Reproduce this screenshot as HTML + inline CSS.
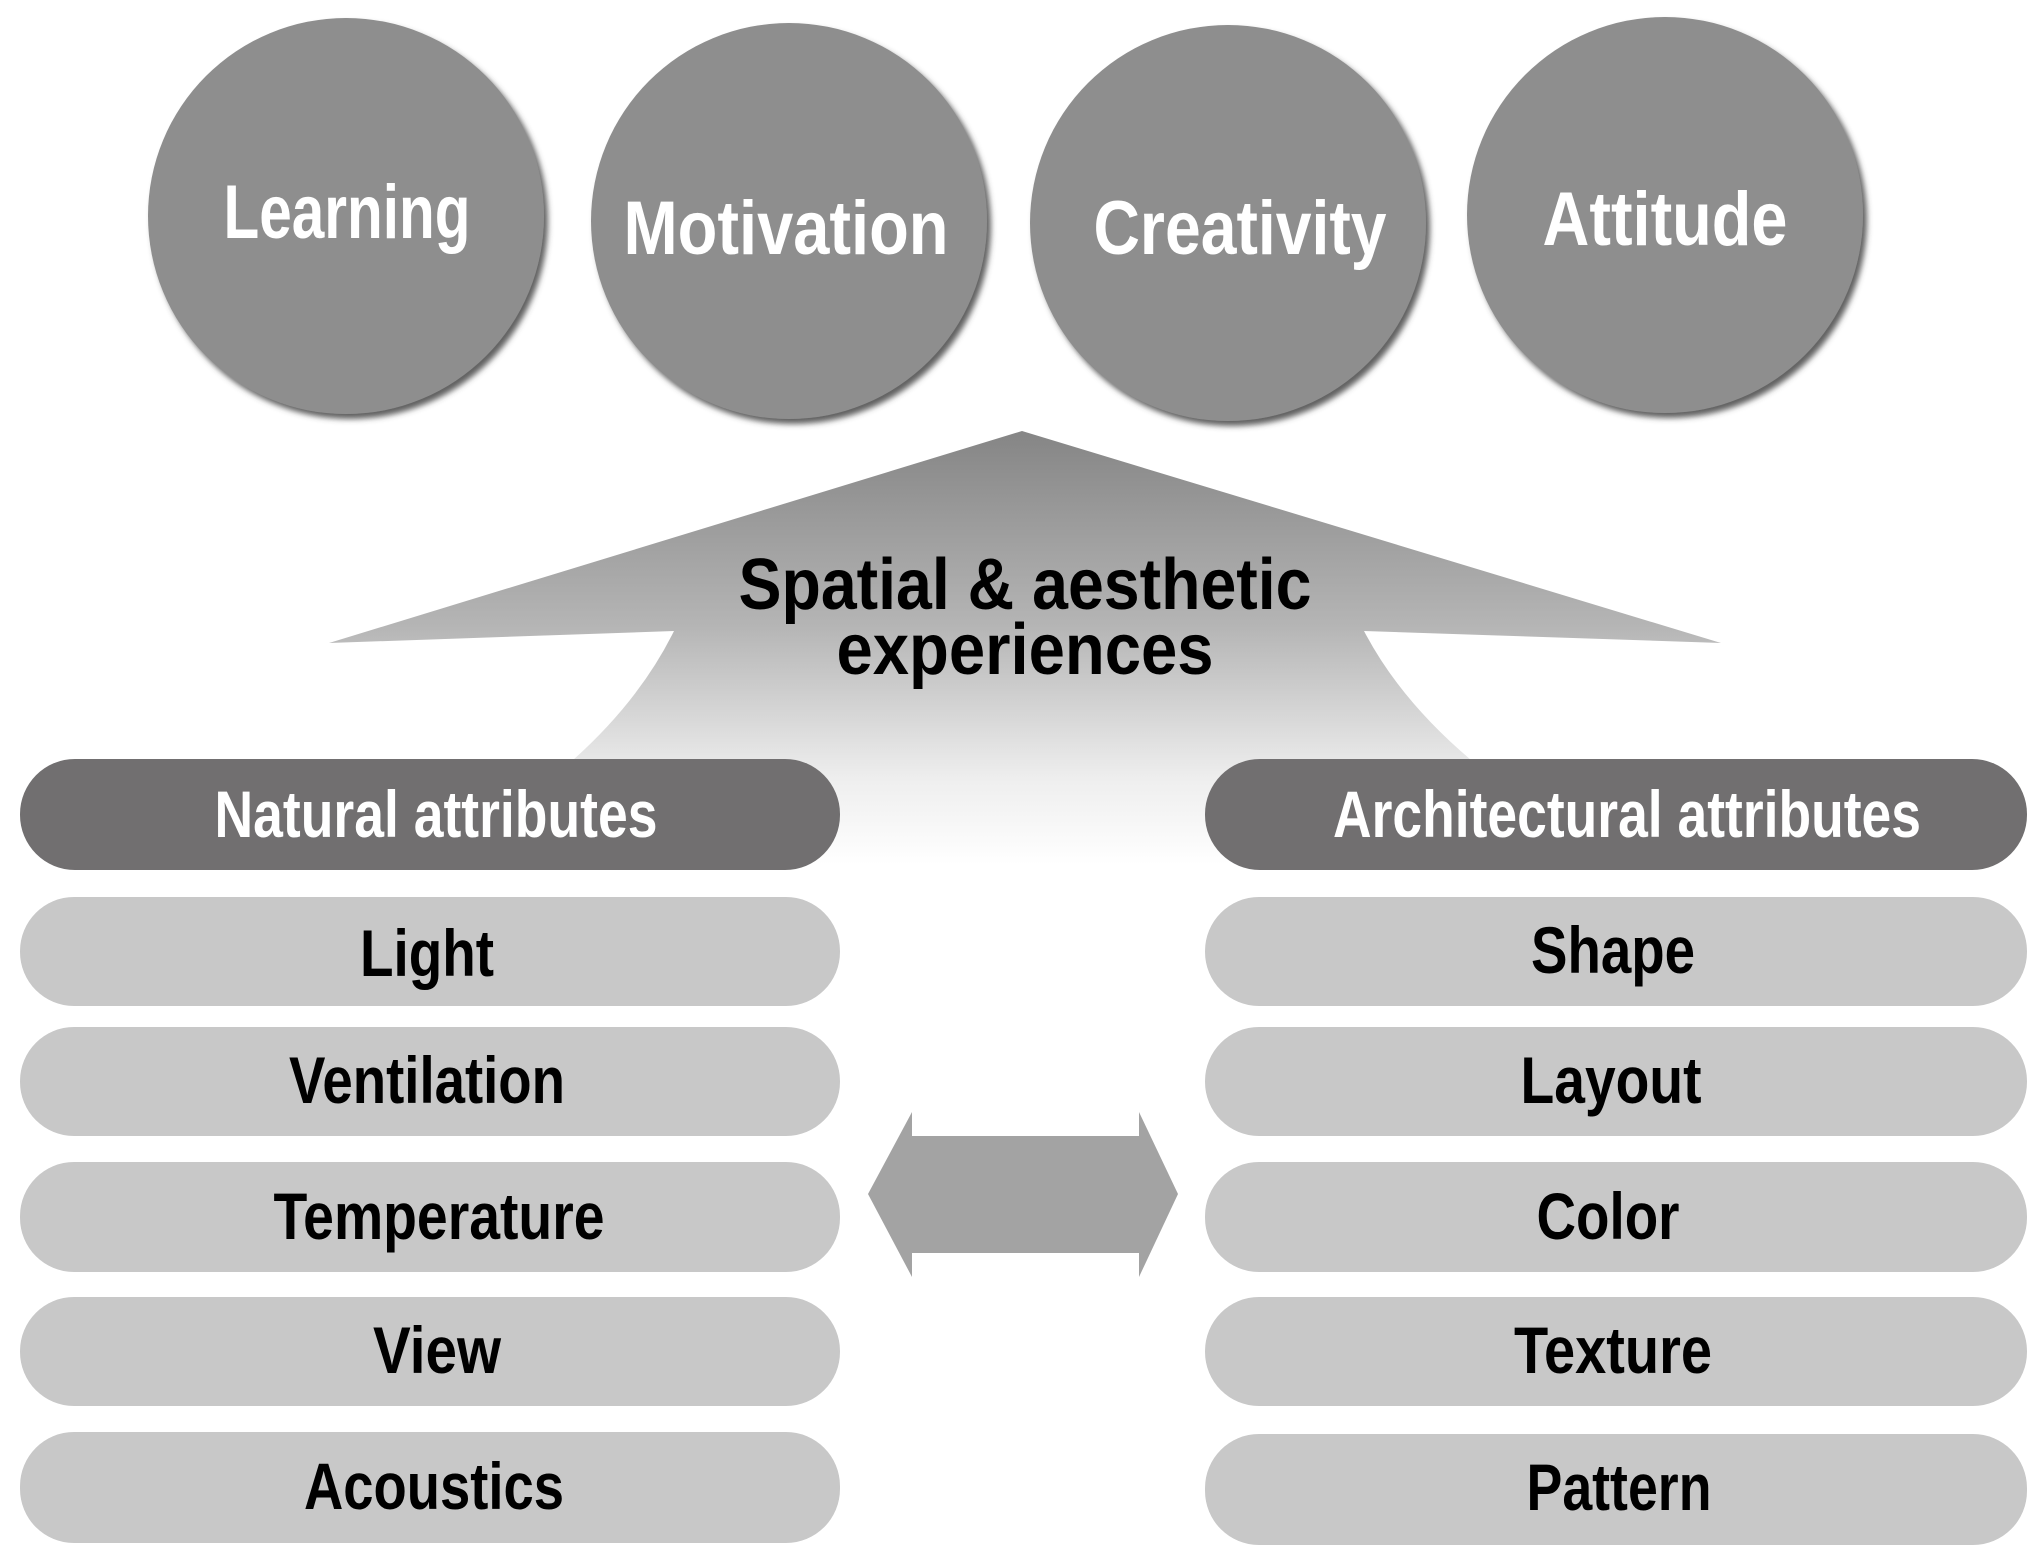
<!DOCTYPE html>
<html><head><meta charset="utf-8"><style>html,body{margin:0;padding:0;background:#fff}svg{display:block}text{font-family:"Liberation Sans",sans-serif;font-weight:bold}</style></head>
<body>
<svg width="2041" height="1563" viewBox="0 0 2041 1563" xmlns="http://www.w3.org/2000/svg">
<defs>
<linearGradient id="g" x1="0" y1="431" x2="0" y2="865" gradientUnits="userSpaceOnUse">
<stop offset="0" stop-color="#858585"/><stop offset="0.45" stop-color="#b5b5b5"/><stop offset="0.8" stop-color="#eeeeee"/><stop offset="1" stop-color="#ffffff"/>
</linearGradient>
<filter id="sh" x="-20%" y="-20%" width="140%" height="140%"><feDropShadow dx="4" dy="5" stdDeviation="3" flood-color="#444" flood-opacity="0.85"/></filter>
</defs>
<g fill="#8e8e8e" filter="url(#sh)">
<circle cx="346" cy="216" r="198"/>
<circle cx="789" cy="221" r="198"/>
<circle cx="1228" cy="223" r="198"/>
<circle cx="1665" cy="215" r="198"/>
</g>
<g fill="#fff" font-size="76" text-anchor="middle">
<text x="347" y="238" textLength="247" lengthAdjust="spacingAndGlyphs">Learning</text>
<text x="786" y="254" textLength="325" lengthAdjust="spacingAndGlyphs">Motivation</text>
<text x="1240" y="254" textLength="293" lengthAdjust="spacingAndGlyphs">Creativity</text>
<text x="1665" y="245" textLength="245" lengthAdjust="spacingAndGlyphs">Attitude</text>
</g>
<path d="M1022 431 L1721 643 L1364 631 Q1400 700 1471 760 L1471 870 L573 870 L573 760 Q640 700 674 631 L329 643 Z" fill="url(#g)"/>
<g fill="#000" font-size="72" text-anchor="middle">
<text x="1025" y="609" textLength="573" lengthAdjust="spacingAndGlyphs">Spatial &amp; aesthetic</text>
<text x="1025" y="674" textLength="377" lengthAdjust="spacingAndGlyphs">experiences</text>
</g>
<g fill="#716f70">
<rect x="20" y="759" width="820" height="111" rx="55"/>
<rect x="1205" y="759" width="822" height="111" rx="55"/>
</g>
<g fill="#fff" font-size="66" text-anchor="middle">
<text x="436" y="837" textLength="443" lengthAdjust="spacingAndGlyphs">Natural attributes</text>
<text x="1627" y="837" textLength="588" lengthAdjust="spacingAndGlyphs">Architectural attributes</text>
</g>
<g fill="#c8c8c8">
<rect x="20" y="897" width="820" height="109" rx="54"/>
<rect x="20" y="1027" width="820" height="109" rx="54"/>
<rect x="20" y="1162" width="820" height="110" rx="54"/>
<rect x="20" y="1297" width="820" height="109" rx="54"/>
<rect x="20" y="1432" width="820" height="111" rx="54"/>
<rect x="1205" y="897" width="822" height="109" rx="54"/>
<rect x="1205" y="1027" width="822" height="109" rx="54"/>
<rect x="1205" y="1162" width="822" height="110" rx="54"/>
<rect x="1205" y="1297" width="822" height="109" rx="54"/>
<rect x="1205" y="1434" width="822" height="111" rx="54"/>
</g>
<g fill="#000" font-size="66" text-anchor="middle">
<text x="427" y="976" textLength="134" lengthAdjust="spacingAndGlyphs">Light</text>
<text x="427" y="1103" textLength="276" lengthAdjust="spacingAndGlyphs">Ventilation</text>
<text x="439" y="1239" textLength="331" lengthAdjust="spacingAndGlyphs">Temperature</text>
<text x="437" y="1373" textLength="128" lengthAdjust="spacingAndGlyphs">View</text>
<text x="434" y="1509" textLength="260" lengthAdjust="spacingAndGlyphs">Acoustics</text>
<text x="1613" y="973" textLength="164" lengthAdjust="spacingAndGlyphs">Shape</text>
<text x="1611" y="1103" textLength="181" lengthAdjust="spacingAndGlyphs">Layout</text>
<text x="1608" y="1239" textLength="143" lengthAdjust="spacingAndGlyphs">Color</text>
<text x="1613" y="1373" textLength="198" lengthAdjust="spacingAndGlyphs">Texture</text>
<text x="1619" y="1510" textLength="185" lengthAdjust="spacingAndGlyphs">Pattern</text>
</g>
<path d="M868 1194 L912 1112 L912 1136 L1139 1136 L1139 1112 L1178 1194 L1139 1277 L1139 1253 L912 1253 L912 1277 Z" fill="#a3a3a3"/>
</svg>
</body></html>
